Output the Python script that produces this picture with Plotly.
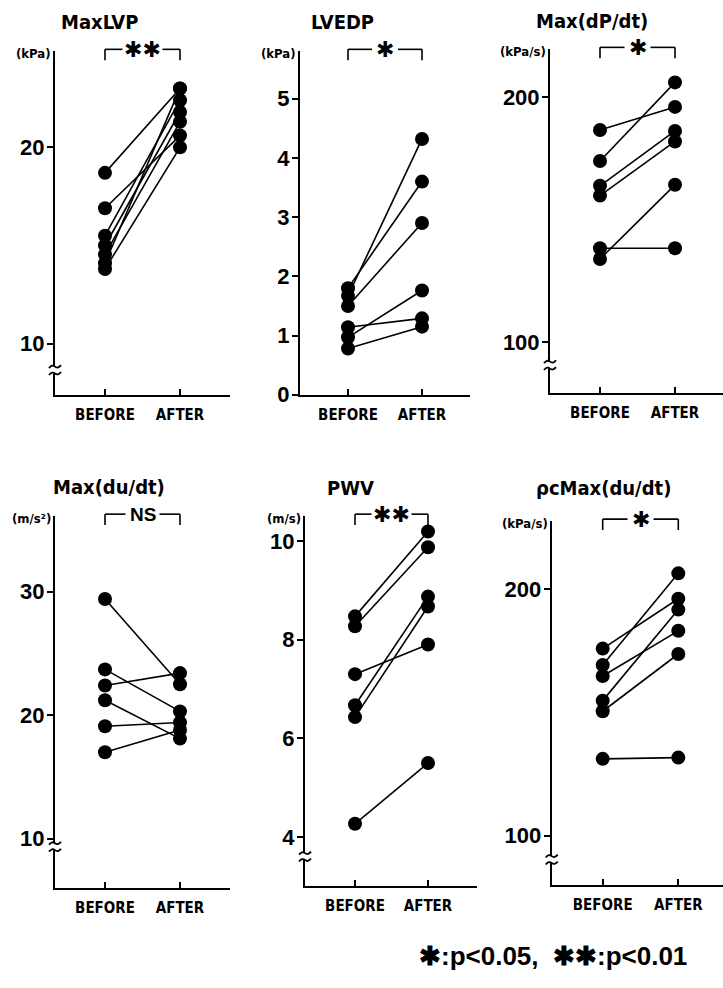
import plotly.graph_objects as go

W, H = 723, 988

groups = ["BEFORE", "AFTER"]

maxlvp_before = [18.7, 16.9, 15.5, 15.0, 14.55, 14.1, 13.8]
maxlvp_after = [23.0, 20.6, 22.4, 21.8, 21.3, 23.0, 20.0]

lvedp_before = [1.80, 1.67, 1.50, 1.14, 0.97, 0.78]
lvedp_after = [3.60, 4.32, 2.90, 1.29, 1.76, 1.15]

dpdt_before = [186.6, 173.9, 163.8, 159.8, 138.3, 133.9]
dpdt_after = [196.0, 206.0, 186.2, 181.9, 138.3, 164.2]

dudt_before = [29.4, 23.7, 22.4, 21.2, 19.1, 17.0]
dudt_after = [22.5, 20.3, 23.4, 18.1, 19.4, 18.8]

pwv_before = [8.47, 8.27, 7.30, 6.67, 6.43, 4.27]
pwv_after = [10.19, 9.87, 7.90, 8.87, 8.67, 5.50]

rhoc_before = [175.8, 169.1, 164.7, 154.7, 150.4, 131.1]
rhoc_after = [196.0, 206.3, 183.0, 191.6, 173.6, 131.6]

titles = ["MaxLVP", "LVEDP", "Max(dP/dt)", "Max(du/dt)", "PWV", "ρcMax(du/dt)"]
units = ["(kPa)", "(kPa)", "(kPa/s)", "(m/s²)", "(m/s)", "(kPa/s)"]
sig_labels = ["✱✱", "✱", "✱", "NS", "✱✱", "✱"]
tick_values = [[10, 20], [0, 1, 2, 3, 4, 5], [100, 200], [10, 20, 30], [4, 6, 8, 10], [100, 200]]
y_ranges = [[7.40, 24.89], [0, 5.8], [79.2, 219.5], [6.0, 36.1], [3.0, 10.5], [80, 227.5]]
befores = [maxlvp_before, lvedp_before, dpdt_before, dudt_before, pwv_before, rhoc_before]
afters = [maxlvp_after, lvedp_after, dpdt_after, dudt_after, pwv_after, rhoc_after]
footnote = "✱:p<0.05,  ✱✱:p<0.01"

# geometry (pixels): axis x, BEFORE x, px per category, right end, top, bottom, break y
geom = [
    dict(ax=55, bx=105, unit=75, right=230, top=52, bot=400, brk=375, title=(99, 22)),
    dict(ax=300, bx=348, unit=74, right=470, top=52, bot=400, brk=None, title=(342, 22)),
    dict(ax=550, bx=600, unit=75, right=723, top=50, bot=398.3, brk=370, title=(592, 21)),
    dict(ax=55, bx=105, unit=75, right=230, top=523, bot=900, brk=858, title=(109, 493)),
    dict(ax=305, bx=355, unit=73, right=477, top=523, bot=898.3, brk=868, title=(350, 494)),
    dict(ax=551.7, bx=602.7, unit=75.6, right=723, top=528, bot=896.7, brk=871, title=(603, 495)),
]
gap_half = {"✱✱": 20, "✱": 13, "NS": 17}

def px(x):
    return x / W

def py(y):
    return 1 - y / H

COND = "Liberation Sans Narrow, DejaVu Sans Condensed, Liberation Sans"
TITLE_FONT = dict(family=COND, size=20, color="black", weight="bold")
CAT_FONT = dict(family=COND, size=15, color="black", weight="bold")
NUM_FONT = dict(family="Liberation Sans, Arial, sans-serif", size=22, color="black", weight="bold")
UNIT_FONT = dict(family=COND, size=13, color="black", weight="bold")
SIG_FONT = dict(family="DejaVu Sans, Liberation Sans", size=22, color="black", weight="bold")
NS_FONT = dict(family="Liberation Sans, Arial, sans-serif", size=19, color="black", weight="bold")

fig = go.Figure()
shapes = []
annotations = []

for k in range(6):
    g = geom[k]
    n = k + 1
    xa = "x" if n == 1 else f"x{n}"
    ya = "y" if n == 1 else f"y{n}"
    for b, a in zip(befores[k], afters[k]):
        fig.add_trace(go.Scatter(
            x=groups, y=[b, a], mode="lines+markers",
            line=dict(color="black", width=1.6),
            marker=dict(size=14, color="black"),
            xaxis=xa, yaxis=ya, showlegend=False, cliponaxis=False,
            hoverinfo="skip"))
    xr = [(g["ax"] - g["bx"]) / g["unit"], (g["right"] - g["bx"]) / g["unit"]]
    fig.layout[("xaxis" if n == 1 else f"xaxis{n}")] = dict(
        domain=[px(g["ax"]), px(g["right"])], anchor=ya, range=xr,
        type="category", categoryorder="array", categoryarray=groups,
        showline=True, linewidth=2, linecolor="black", showgrid=False, zeroline=False,
        ticks="inside", ticklen=6, tickwidth=2, tickcolor="black",
        tickfont=CAT_FONT, ticklabelstandoff=5, fixedrange=True)
    fig.layout[("yaxis" if n == 1 else f"yaxis{n}")] = dict(
        domain=[py(g["bot"]), py(g["top"])], anchor=xa, range=y_ranges[k],
        tickvals=tick_values[k], ticktext=[str(v) for v in tick_values[k]],
        showline=True, linewidth=2, linecolor="black", showgrid=False, zeroline=False,
        ticks="outside", ticklen=6, tickwidth=2, tickcolor="black",
        tickfont=NUM_FONT, ticklabelstandoff=-2, fixedrange=True)

    # title
    annotations.append(dict(text=titles[k], x=px(g["title"][0]), y=py(g["title"][1]),
                            xref="paper", yref="paper", showarrow=False, font=TITLE_FONT,
                            xanchor="center", yanchor="middle"))
    # unit
    annotations.append(dict(text=units[k], x=px(g["ax"] - 2), y=py(g["top"] + 2),
                            xref="paper", yref="paper", showarrow=False, font=UNIT_FONT,
                            xanchor="right", yanchor="middle"))
    # significance bracket
    ytop = py(g["top"] - 2)
    ydrop = py(g["top"] + 9)
    gh = gap_half[sig_labels[k]] / g["unit"]
    for x0, x1, y0, y1 in [(0, 0, ydrop, ytop), (1, 1, ydrop, ytop),
                           (0, 0.5 - gh, ytop, ytop), (0.5 + gh, 1, ytop, ytop)]:
        shapes.append(dict(type="line", xref=xa, yref="paper", x0=x0, x1=x1, y0=y0, y1=y1,
                           line=dict(color="black", width=1.6)))
    annotations.append(dict(text=sig_labels[k], x=0.5, y=ytop, xref=xa, yref="paper",
                            showarrow=False, font=SIG_FONT if sig_labels[k] != "NS" else NS_FONT,
                            xanchor="center", yanchor="middle"))
    # axis break
    if g["brk"] is not None:
        bx, by = g["ax"], g["brk"]
        shapes.append(dict(type="rect", xref="paper", yref="paper",
                           x0=px(bx - 3), x1=px(bx + 3), y0=py(by + 3.5), y1=py(by - 3.5),
                           fillcolor="white", line=dict(width=0)))
        for dy in (-3.5, 3.5):
            path = (f"M {px(bx-6)},{py(by+dy+1.5)} Q {px(bx-3)},{py(by+dy-2.5)} {px(bx)},{py(by+dy)} "
                    f"T {px(bx+6)},{py(by+dy-1.5)}")
            shapes.append(dict(type="path", xref="paper", yref="paper", path=path,
                               line=dict(color="black", width=1.8)))

annotations.append(dict(text=footnote, x=px(689), y=py(969), xref="paper", yref="paper",
                        showarrow=False, xanchor="right", yanchor="middle",
                        font=dict(family="Liberation Sans, Arial, sans-serif", size=26,
                                  color="black", weight="bold")))

fig.update_layout(width=W, height=H, margin=dict(l=0, r=0, t=0, b=0),
                  paper_bgcolor="white", plot_bgcolor="white",
                  shapes=shapes, annotations=annotations, showlegend=False)

fig.write_html("out.html")
